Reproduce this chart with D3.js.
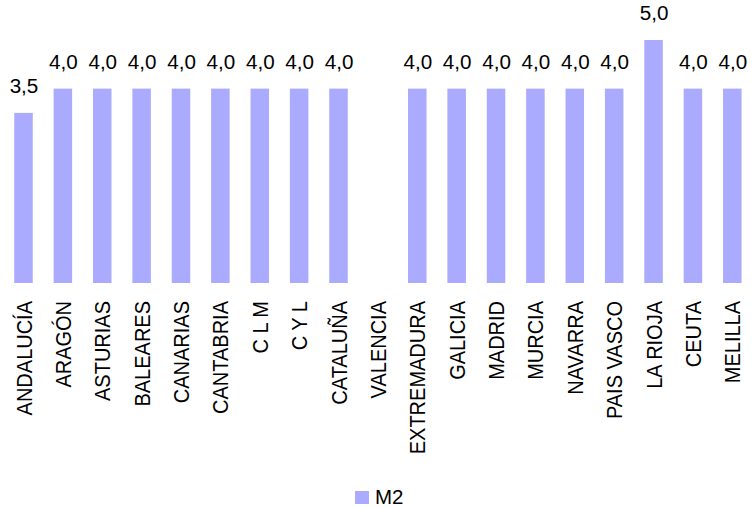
<!DOCTYPE html>
<html><head><meta charset="utf-8">
<script src="https://cdn.jsdelivr.net/npm/d3@7"></script>
<style>body{margin:0;background:#fff;} text{font-family:"Liberation Sans",Arial,sans-serif;fill:#000;}</style>
</head><body>
<svg id="c" width="755" height="508"></svg>
<script>
const categories = ["ANDALUCÍA","ARAGÓN","ASTURIAS","BALEARES","CANARIAS","CANTABRIA","C L M","C Y L","CATALUÑA","VALENCIA","EXTREMADURA","GALICIA","MADRID","MURCIA","NAVARRA","PAIS VASCO","LA RIOJA","CEUTA","MELILLA"];
const m2 = [3.5,4,4,4,4,4,4,4,4,null,4,4,4,4,4,4,5,4,4];
const seriesName = "M2";

const svg = d3.select("#c");
const x = d3.scaleBand().domain(categories).range([3.8, 752]).paddingInner(0.53).paddingOuter(0.265);
const y = d3.scaleLinear().domain([0,5]).range([283, 40]);
const color = "#AAAAFF";
const data = categories.map((c,i)=>({c, v:m2[i]}));
const valid = data.filter(d=>d.v!=null);

svg.selectAll("rect.bar").data(valid).join("rect").attr("class","bar")
  .attr("x", d=>x(d.c)).attr("width", x.bandwidth())
  .attr("y", d=>y(d.v)).attr("height", d=>y(0)-y(d.v)).attr("fill", color);

const fmt = v => v.toFixed(1).replace(".", ",");
svg.selectAll("text.val").data(valid).join("text").attr("class","val")
  .attr("transform", d=>`translate(${x(d.c)+x.bandwidth()/2+0.5},${y(d.v)-20}) scale(1.06,1)`)
  .attr("text-anchor","middle").style("font-size","19.5px").text(d=>fmt(d.v));

svg.selectAll("text.cat").data(categories).join("text").attr("class","cat")
  .attr("transform", d=>`translate(${x(d)+x.bandwidth()/2},301) scale(1.12,1) rotate(-90)`)
  .attr("text-anchor","end").attr("dy","0.36em").style("font-size","20px").text(d=>d);

const lg = svg.append("g").attr("transform","translate(355,491)");
lg.append("rect").attr("width",14).attr("height",13).attr("fill",color);
lg.append("text").attr("x",20).attr("y",13).style("font-size","20.5px").text(seriesName);
</script>
</body></html>
